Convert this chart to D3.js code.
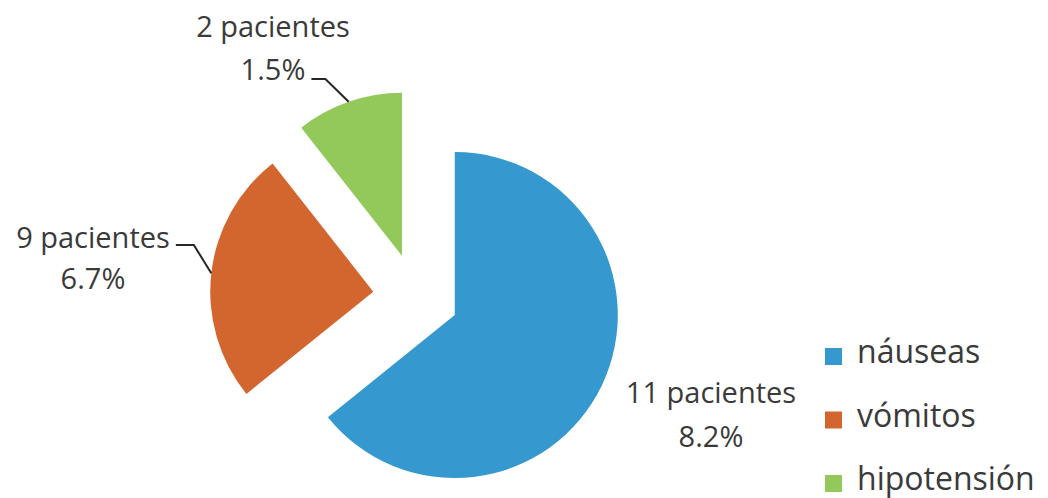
<!DOCTYPE html>
<html><head><meta charset="utf-8">
<script src="https://cdn.jsdelivr.net/npm/d3@7"></script>
<style>body{margin:0;background:#fff} svg{display:block}</style>
</head><body><svg id="c" width="1048" height="498"></svg>
<script>
// ---- data ----
const categories = ["náuseas", "vómitos", "hipotensión"];
const sliceShares = [64.2, 25.2, 10.6];
const patients = [11, 9, 2];
const percentLabels = ["8.2%", "6.7%", "1.5%"];
const colors = ["#3598cf", "#d3652f", "#93c85b"];

// ---- layout ----
const W = 1048, H = 498;
const cx = 416, cy = 296.5, R = 163, explode = 43;
const labelFont = "'Open Sans', sans-serif";
const textColor = "#3a3a3a";
const labelLayout = [
  {x: 711, y: 403, gap: 44, leader: null},
  {x: 93,  y: 248, gap: 41, leader: {line: 0, dy: -3, elbow: 18}},
  {x: 273, y: 37,  gap: 43, leader: {line: 1, dy: -1, elbow: 14}}
];

const svg = d3.select("#c");
const pie = d3.pie().sort(null).value(d => d);
const arcs = pie(sliceShares);
const arc = d3.arc().innerRadius(0).outerRadius(R);

const g = svg.append("g").attr("transform", `translate(${cx},${cy})`);
const unit = a => [Math.sin(a), -Math.cos(a)];

g.selectAll("path.slice").data(arcs).join("path")
  .attr("class", "slice")
  .attr("d", arc)
  .attr("fill", (d, i) => colors[i])
  .attr("transform", d => {
    const m = (d.startAngle + d.endAngle) / 2;
    const [ux, uy] = unit(m);
    return `translate(${ux * explode},${uy * explode})`;
  });

// labels
arcs.forEach((d, i) => {
  const L = labelLayout[i];
  const t = svg.append("text")
    .attr("font-family", labelFont).attr("font-size", 29)
    .attr("fill", textColor).attr("text-anchor", "middle");
  const lines = [`${patients[i]} pacientes`, percentLabels[i]];
  const tspans = lines.map((s, k) => t.append("tspan")
    .attr("x", L.x).attr("y", L.y + k * L.gap).text(s));
  if (L.leader) {
    const node = tspans[L.leader.line].node();
    const w = node.getComputedTextLength();
    const sx = L.x + w / 2 + 6;
    const sy = L.y + L.leader.line * L.gap + L.leader.dy;
    const m = (d.startAngle + d.endAngle) / 2;
    const [ux, uy] = unit(m);
    const ex = cx + ux * (R + explode), ey = cy + uy * (R + explode);
    svg.append("polyline")
      .attr("points", [[sx, sy], [sx + L.leader.elbow, sy], [ex, ey]].map(p => p.join(",")).join(" "))
      .attr("fill", "none").attr("stroke", "#262626").attr("stroke-width", 2);
  }
});

// legend
const legend = svg.append("g").attr("transform", "translate(825,348)");
const items = legend.selectAll("g").data(categories).join("g")
  .attr("transform", (d, i) => `translate(0,${i * 63.5})`);
items.append("rect").attr("width", 17).attr("height", 17)
  .attr("fill", (d, i) => colors[i]);
items.append("text").attr("x", 32).attr("y", 15)
  .attr("font-family", labelFont).attr("font-size", 32)
  .attr("fill", textColor).text(d => d);
</script>
</body></html>
